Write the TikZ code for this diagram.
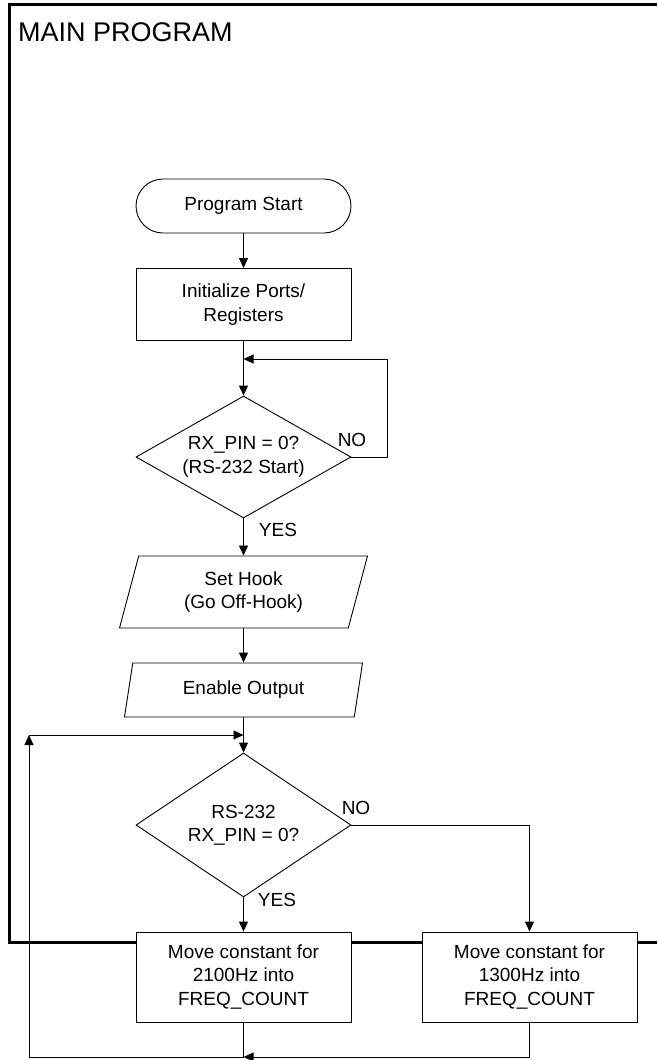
\documentclass[tikz,border=0pt]{standalone}
\usepackage{fontspec}
\setmainfont{Liberation Sans}
\usetikzlibrary{shapes.geometric, arrows.meta}

\begin{document}
\begin{tikzpicture}[x = 1pt, y = -1pt,
    every node/.style = {font = \fontsize{19}{23.5}\selectfont, align = center},
    box/.style = {draw, fill = white, line width = 0.9pt, minimum width = 215pt, minimum height = 72pt, inner sep = 0pt},
    terminal/.style = {box, rounded corners = 27pt, minimum height = 54pt},
    decision/.style = {draw, fill = white, line width = 0.9pt, diamond, aspect = 2, minimum width = 215pt, inner sep = 0pt},
    io/.style = {draw, fill = white, line width = 0.9pt, trapezium, trapezium left angle = 65, trapezium right angle = 115, trapezium stretches body, inner sep = 0pt},
    flow/.style = {line width = 0.9pt, -{Triangle[length = 10pt, width = 9pt]}},
    line/.style = {line width = 0.9pt}]

    \useasboundingbox (0, 0) rectangle (657, 1060);

% Frame
    \draw [line width = 3pt] (657, 4) -- (9, 4) -- (9, 942) -- (657, 942);
    \node [anchor = base west, inner sep = 0pt, font = \fontsize{27}{30}\selectfont] (title) at (18, 41) {MAIN PROGRAM};

% Nodes
    \node[terminal] (start) at (243.5, 206) {Program Start};
    \node[box] (init) at (243.5, 304.5) {Initialize Ports/\\Registers};
    \node[decision, minimum height = 122pt] (rxstart) at (243.5, 457) {RX\_PIN = 0?\\(RS-232 Start)};
    \node[io, minimum width = 248pt, minimum height = 72pt] (hook) at (243.5, 592) {Set Hook\\(Go Off-Hook)};
    \node[io, minimum width = 238pt, minimum height = 54pt] (enable) at (243.5, 690) {Enable Output};
    \node[decision, minimum height = 144pt] (rxbit) at (243.5, 825) {RS-232\\RX\_PIN = 0?};
    \node[box, minimum height = 90pt] (tone2100) at (243.5, 977) {Move constant for\\2100Hz into\\FREQ\_COUNT};
    \node[box, minimum height = 90pt] (tone1300) at (529.5, 977) {Move constant for\\1300Hz into\\FREQ\_COUNT};

    \coordinate (waitin) at (243.5, 359);
    \coordinate (loopin) at (243.5, 735);
    \coordinate (corner) at (29, 735);
    \coordinate (join) at (243.5, 1057);

% Directions
    \draw[flow] (start) -- (init);
    \draw[flow] (init) -- (rxstart);
    \draw[flow] (rxstart.east) -- ++(36, 0) |- (waitin);
    \draw[flow] (rxstart) -- (hook);
    \draw[flow] (hook) -- (enable);
    \draw[flow] (enable) -- (rxbit);
    \draw[flow] (rxbit) -- (tone2100);
    \draw[flow] (rxbit.east) -| (tone1300);
    \draw[line] (tone2100) -- (join);
    \draw[flow] (tone1300) |- (join);
    \draw[flow] (join) -| (corner);
    \draw[flow] (corner) -- (loopin);

% Labels
    \node (no1) at (352, 440) {NO};
    \node (yes1) at (278, 530) {YES};
    \node (no2) at (356, 808) {NO};
    \node (yes2) at (277, 900) {YES};

\end{tikzpicture}
\end{document}
